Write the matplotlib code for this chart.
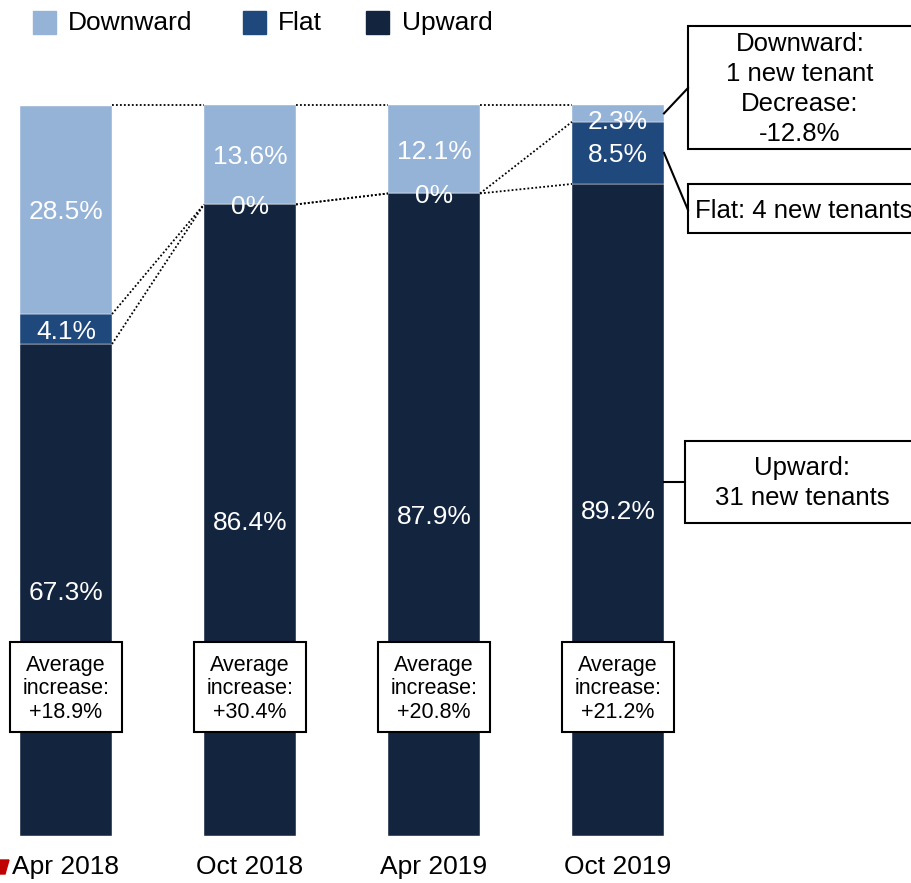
import matplotlib
matplotlib.use("Agg")
import matplotlib.pyplot as plt
from matplotlib.patches import Rectangle, Polygon

# data
periods = ["Apr 2018", "Oct 2018", "Apr 2019", "Oct 2019"]
upward = [67.3, 86.4, 87.9, 89.2]
flat = [4.1, 0.0, 0.0, 8.5]
downward = [28.5, 13.6, 12.1, 2.3]
avg_increase = ["+18.9%", "+30.4%", "+20.8%", "+21.2%"]
series_names = ["Downward", "Flat", "Upward"]

C_DOWN = "#95b3d7"
C_FLAT = "#1f497d"
C_UP = "#13243f"

plt.rcParams['font.family'] = ['Liberation Sans', 'DejaVu Sans']

W, H = 912, 883
fig = plt.figure(figsize=(W / 100, H / 100), dpi=100)

# main axes: bar centres 184px apart, 100% = 731px
ax = fig.add_axes([0, 0, 1, 1])
ax.set_xlim(-66 / 184, (W - 66) / 184)
ax.set_ylim(-(H - 836) / 7.31, 100 + 105 / 7.31)
ax.axis('off')

# overlay in pixel coords for boxes / legend / labels
ov = fig.add_axes([0, 0, 1, 1], zorder=5)
ov.set_xlim(0, W)
ov.set_ylim(H, 0)
ov.axis('off')
ov.patch.set_alpha(0)

x = list(range(len(periods)))
bw = 0.5
mid = [u + f for u, f in zip(upward, flat)]
ax.bar(x, upward, bw, color=C_UP, edgecolor='white', linewidth=0.3)
ax.bar(x, flat, bw, bottom=upward, color=C_FLAT, edgecolor='white', linewidth=0.3)
ax.bar(x, downward, bw, bottom=mid, color=C_DOWN, edgecolor='white', linewidth=0.3)

# value labels
for i in x:
    segs = [(upward[i], 0), (flat[i], upward[i]), (downward[i], mid[i])]
    for val, base in segs:
        y = base + val / 2
        if 0 < val < 3:
            y -= 0.8
        ax.text(i, y, f"{val:g}%" if val else "0%", color='white', fontsize=19,
                ha='center', va='center_baseline')

# dotted series lines between bars
for i in range(len(periods) - 1):
    levels = [(100, 100), (mid[i], mid[i + 1]), (upward[i], upward[i + 1])]
    for y0, y1 in levels:
        ax.plot([i + bw / 2, i + 1 - bw / 2], [y0, y1], color='black',
                linestyle=(0, (1, 1.2)), linewidth=1.3)

def px(xd, yd):
    p = ax.transData.transform((xd, yd))
    return p[0], H - p[1]

# x labels
for i, lab in enumerate(periods):
    cx, _ = px(i, 0)
    ov.text(cx, 867, lab, fontsize=19, ha='center', va='center')
ov.add_patch(Polygon([(0, 860), (9, 860), (5, 874), (0, 874)], closed=True,
                     color='#c00000'))

# legend
legend_pos = [(33, 68), (243, 278), (366, 402)]
for (sx, tx), name, col in zip(legend_pos, series_names, [C_DOWN, C_FLAT, C_UP]):
    ov.add_patch(Rectangle((sx, 11), 23, 23, color=col))
    ov.text(tx, 23, name, fontsize=19, ha='left', va='center')

# average increase boxes
for i, val in enumerate(avg_increase):
    cx, _ = px(i, 0)
    ov.add_patch(Rectangle((cx - 56, 642), 112, 90, facecolor='white',
                           edgecolor='black', linewidth=1.5))
    ov.text(cx, 689, "Average\nincrease:\n" + val, fontsize=15.5, ha='center',
            va='center', linespacing=1.13)

# callouts on the right
edge_x, _ = px(3 + bw / 2, 0)
ov.add_patch(Rectangle((688, 26), 230, 123, facecolor='white', edgecolor='black', linewidth=1.5))
ov.text(800, 89, "Downward:\n1 new tenant\nDecrease:\n-12.8%", fontsize=18.5,
        ha='center', va='center', linespacing=1.3)
_, yd = px(3, mid[3] + downward[3] / 2)
ov.plot([edge_x, 688], [yd, 88], color='black', linewidth=1.5)

ov.add_patch(Rectangle((688, 184), 230, 49, facecolor='white', edgecolor='black', linewidth=1.5))
ov.text(695, 211, "Flat: 4 new tenants", fontsize=18.5, ha='left', va='center')
_, yf = px(3, upward[3] + flat[3] / 2)
ov.plot([edge_x, 688], [yf, 210], color='black', linewidth=1.5)

ov.add_patch(Rectangle((685, 441), 233, 82, facecolor='white', edgecolor='black', linewidth=1.5))
ov.text(802, 483, "Upward:\n31 new tenants", fontsize=18.5, ha='center', va='center',
        linespacing=1.3)
ov.plot([edge_x, 685], [482, 482], color='black', linewidth=1.5)

fig.savefig("out.png", dpi=100)
